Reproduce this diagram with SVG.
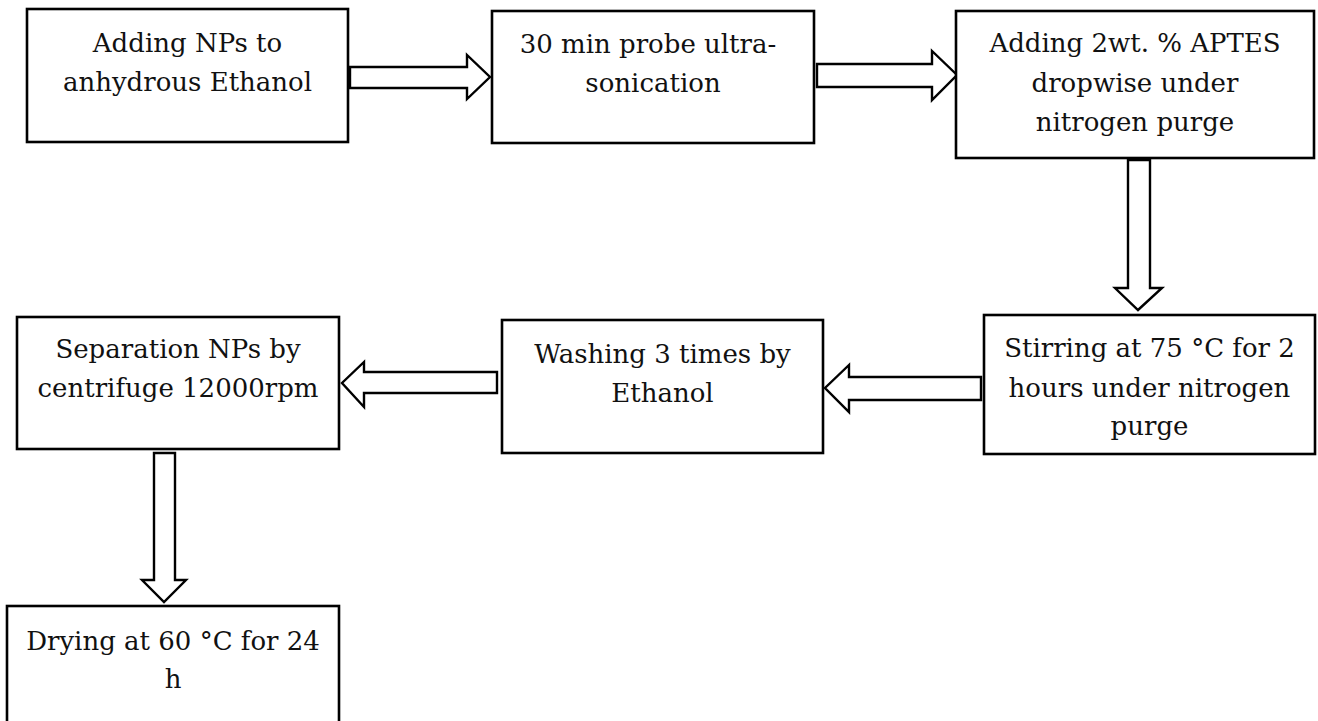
<svg xmlns="http://www.w3.org/2000/svg" width="1318" height="721" viewBox="0 0 1318 721">
<style>
.box{fill:#fff;stroke:#000;stroke-width:2.6}
.arr{fill:#fff;stroke:#000;stroke-width:2.4;stroke-linejoin:miter}
text{font-family:"DejaVu Serif","Liberation Serif",serif;font-size:26px;fill:#111;text-anchor:middle}
</style>
<rect width="1318" height="721" fill="#fff"/>
<g id="connectors">
<polygon class="arr" points="350,67 467,67 467,55 490,77 467,99 467,88 350,88"/>
<polygon class="arr" points="817,64 932,64 932,51 957,75 932,100 932,87 817,87"/>
<polygon class="arr" points="1128,160 1150,160 1150,288 1162,288 1138,310 1115,288 1128,288"/>
<polygon class="arr" points="981,377 981,400 849,400 849,412 825,388 849,365 849,377"/>
<polygon class="arr" points="497,372 497,393 364,393 364,407 342,383 364,362 364,372"/>
<polygon class="arr" points="154,453 175,453 175,580 186,580 164,602 142,580 154,580"/>
</g>
<g id="n1">
<rect class="box" x="27" y="9" width="321" height="133"/>
<text x="187.5" y="52">Adding NPs to</text>
<text x="187.5" y="91">anhydrous Ethanol</text>
</g>
<g id="n2">
<rect class="box" x="492" y="11" width="322" height="132"/>
<text x="648" y="53">30 min probe ultra-</text>
<text x="653" y="92">sonication</text>
</g>
<g id="n3">
<rect class="box" x="956" y="11" width="358" height="147"/>
<text x="1135" y="52">Adding 2wt. % APTES</text>
<text x="1135" y="92">dropwise under</text>
<text x="1135" y="131">nitrogen purge</text>
</g>
<g id="n4">
<rect class="box" x="984" y="315" width="331" height="139"/>
<text x="1149.5" y="357">Stirring at 75 °C for 2</text>
<text x="1149.5" y="397">hours under nitrogen</text>
<text x="1149.5" y="435">purge</text>
</g>
<g id="n5">
<rect class="box" x="502" y="320" width="321" height="133"/>
<text x="662.5" y="363">Washing 3 times by</text>
<text x="662.5" y="402">Ethanol</text>
</g>
<g id="n6">
<rect class="box" x="17" y="317" width="322" height="132"/>
<text x="178" y="358">Separation NPs by</text>
<text x="178" y="397">centrifuge 12000rpm</text>
</g>
<g id="n7">
<rect class="box" x="7" y="606" width="332" height="140"/>
<text x="173" y="650">Drying at 60 °C for 24</text>
<text x="173" y="688">h</text>
</g>
</svg>
